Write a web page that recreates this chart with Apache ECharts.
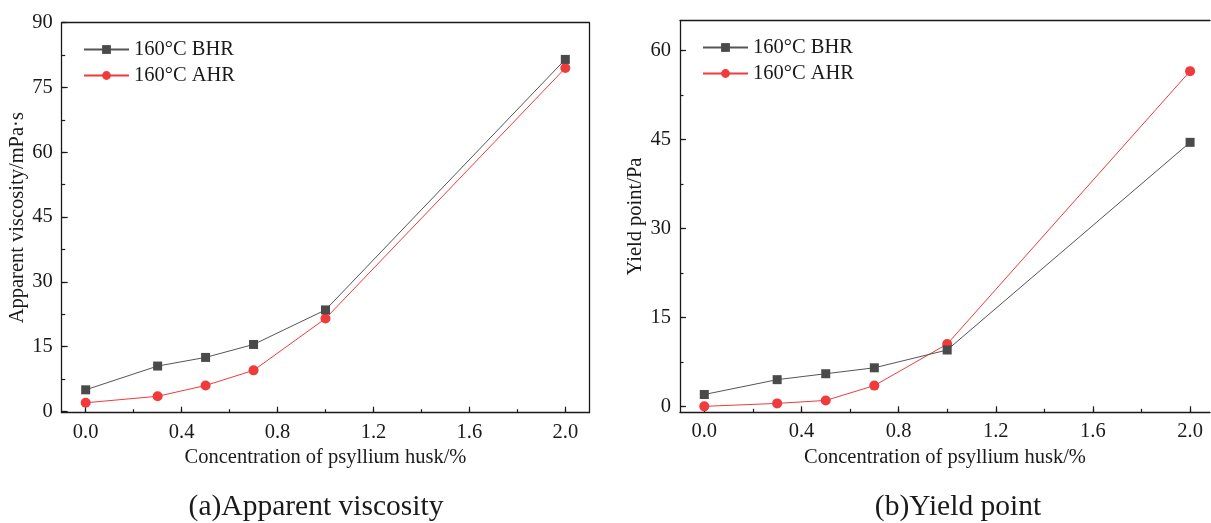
<!DOCTYPE html>
<html>
<head>
<meta charset="utf-8">
<script src="https://cdn.jsdelivr.net/npm/echarts@6/dist/echarts.min.js"></script>
<style>
  html, body { margin: 0; padding: 0; background: #fff; }
  #chart { width: 1211px; height: 523px; }
</style>
</head>
<body>
<div id="chart"></div>
<script>
// Psyllium husk concentration (%) on the x axis
const concentration = [0, 0.3, 0.5, 0.7, 1.0, 2.0];

// (a) Apparent viscosity, mPa·s
const viscosityBHR = [5, 10.5, 12.5, 15.5, 23.5, 81.5];
const viscosityAHR = [2, 3.5, 6, 9.5, 21.5, 79.5];

// (b) Yield point, Pa
const yieldBHR = [2, 4.5, 5.5, 6.5, 9.5, 44.5];
const yieldAHR = [0, 0.5, 1, 3.5, 10.5, 56.5];

// Tick labels
const xTicks = [0, 0.4, 0.8, 1.2, 1.6, 2.0];
const viscosityTicks = [0, 15, 30, 45, 60, 75, 90];
const yieldTicks = [0, 15, 30, 45, 60];

const seriesNames = ['160°C BHR', '160°C AHR'];
const FONT = 'Liberation Serif';
const FS = 20.5;
const INK = '#1a1a1a';
const GRAY = '#4a4a4a';
const RED = '#ef3b3b';
const X_MIN = -0.1;
const MAJOR_LEN = 6;
const MINOR_LEN = 3.5;

const pairs = (xs, ys) => xs.map((x, i) => [x, ys[i]]);
const last = arr => arr[arr.length - 1];

// plot rectangles and value ranges of the two panels
const panels = [
  { rect: { left: 61.7, top: 22.7, width: 527.6, height: 390 }, xMax: 2.1, yMin: -0.3, yMax: 90,
    yTicks: viscosityTicks, yName: 'Apparent viscosity/mPa·s', yGap: 32, rightEdge: true,
    series: [viscosityBHR, viscosityAHR] },
  { rect: { left: 680, top: 20.7, width: 530, height: 391.6 }, xMax: 2.082, yMin: -1, yMax: 65,
    yTicks: yieldTicks, yName: 'Yield point/Pa', yGap: 32.5, rightEdge: false,
    series: [yieldBHR, yieldAHR] }
];

const line = { color: INK, width: 1.3 };
const tickStyle = { color: INK, width: 1.2 };
const hidden = gridIndex => ({ type: 'value', gridIndex, show: false, min: 0, max: 1 });
const grids = [], xAxes = [], yAxes = [], series = [];

// Inward tick marks: a thin strip along the axis whose split lines are the ticks.
function tickStripAxis(gridIndex, from, to, step) {
  return {
    type: 'value', gridIndex, min: from, max: to, interval: step,
    axisLine: { show: false, onZero: false }, axisLabel: { show: false }, axisTick: { show: false },
    splitLine: { show: true, showMinLine: true, showMaxLine: true, lineStyle: tickStyle }
  };
}

panels.forEach(p => {
  const r = p.rect;

  // data grid: axis lines, tick labels, names, series
  const g = grids.length;
  grids.push(Object.assign({}, r));
  xAxes.push({
    type: 'value', gridIndex: g, min: X_MIN, max: p.xMax, position: 'bottom',
    name: 'Concentration of psyllium husk/%', nameLocation: 'middle', nameGap: 31,
    nameTextStyle: { fontFamily: FONT, fontSize: FS, color: INK },
    axisLine: { show: true, onZero: false, lineStyle: line },
    axisTick: { show: false },
    axisLabel: { show: true, customValues: xTicks, margin: 9, fontFamily: FONT, fontSize: FS, color: INK,
      formatter: v => v.toFixed(1) },
    splitLine: { show: false }
  });
  yAxes.push({
    type: 'value', gridIndex: g, min: p.yMin, max: p.yMax, position: 'left',
    name: p.yName, nameLocation: 'middle', nameGap: p.yGap,
    nameTextStyle: { fontFamily: FONT, fontSize: FS, color: INK },
    axisLine: { show: true, onZero: false, lineStyle: line },
    axisTick: { show: false },
    axisLabel: { show: true, customValues: p.yTicks, margin: 9, fontFamily: FONT, fontSize: FS, color: INK },
    splitLine: { show: false }
  });
  p.series.forEach((vals, k) => {
    const isRed = k === 1;
    series.push({
      type: 'line', name: seriesNames[k], xAxisIndex: g, yAxisIndex: g,
      data: pairs(concentration, vals),
      symbol: isRed ? 'circle' : 'rect',
      symbolSize: isRed ? 10 : 9,
      color: isRed ? RED : GRAY,
      itemStyle: { color: isRed ? RED : GRAY },
      lineStyle: { color: isRed ? RED : '#555', width: 1 },
      emphasis: { disabled: true },
      z: isRed ? 3 : 4
    });
  });

  const xSpan = p.xMax - X_MIN;
  const xStep = xTicks[1] - xTicks[0];
  const yt = p.yTicks;
  const ySpan = p.yMax - p.yMin;
  const yStep = yt[1] - yt[0];
  const x0 = xTicks[0], x1 = last(xTicks);
  const y0 = yt[0], y1 = last(yt);

  // x tick strips along the bottom edge: major at each label, minor halfway
  [[xStep, MAJOR_LEN], [xStep / 2, MINOR_LEN]].forEach(([step, len]) => {
    const gi = grids.length;
    grids.push({
      left: r.left + (x0 - X_MIN) / xSpan * r.width,
      width: (x1 - x0) / xSpan * r.width,
      top: r.top + r.height - len, height: len
    });
    xAxes.push(tickStripAxis(gi, x0, x1, step));
    yAxes.push(hidden(gi));
  });
  // y tick strips along the left edge
  [[yStep, MAJOR_LEN], [yStep / 2, MINOR_LEN]].forEach(([step, len]) => {
    const gi = grids.length;
    grids.push({
      left: r.left, width: len,
      top: r.top + (p.yMax - y1) / ySpan * r.height,
      height: (y1 - y0) / ySpan * r.height
    });
    xAxes.push(hidden(gi));
    yAxes.push(tickStripAxis(gi, y0, y1, step));
  });

  // frame: top edge, and the right edge where it fits on the page
  const gf = grids.length;
  grids.push(Object.assign({}, r));
  xAxes.push({
    type: 'value', gridIndex: gf, min: X_MIN, max: p.xMax, position: 'top',
    axisLine: { show: true, onZero: false, lineStyle: line },
    axisTick: { show: false }, axisLabel: { show: false }, splitLine: { show: false }
  });
  yAxes.push({
    type: 'value', gridIndex: gf, min: p.yMin, max: p.yMax, position: 'right',
    axisLine: { show: p.rightEdge, onZero: false, lineStyle: line },
    axisTick: { show: false }, axisLabel: { show: false }, splitLine: { show: false }
  });
});

function legendAt(left, top) {
  return {
    data: seriesNames, left, top, orient: 'vertical', padding: 0,
    itemWidth: 45, itemHeight: 11, itemGap: 5,
    textStyle: { fontFamily: FONT, fontSize: FS, color: INK, lineHeight: 20 }
  };
}
function caption(text, x) {
  return { text, left: x, top: 507, textAlign: 'center', textVerticalAlign: 'middle', padding: 0,
    textStyle: { fontFamily: FONT, fontSize: 29.5, fontWeight: 'normal', color: INK } };
}

const chart = echarts.init(document.getElementById('chart'), null, { renderer: 'canvas' });
chart.setOption({
  backgroundColor: '#fff',
  animation: false,
  grid: grids,
  xAxis: xAxes,
  yAxis: yAxes,
  legend: [legendAt(83, 39), legendAt(702, 37)],
  title: [caption('(a)Apparent viscosity', 316), caption('(b)Yield point', 958)],
  series
});
</script>
</body>
</html>
